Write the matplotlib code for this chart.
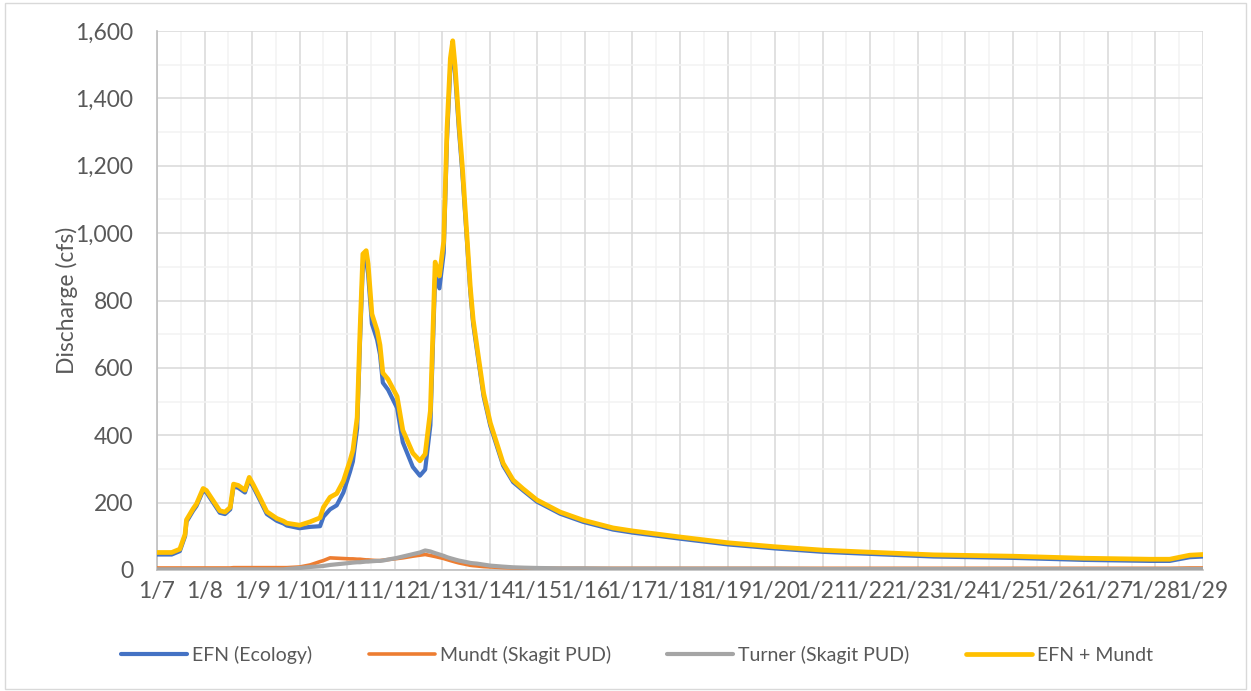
import numpy as np
import matplotlib
matplotlib.use("Agg")
import matplotlib.pyplot as plt
from matplotlib.ticker import MultipleLocator, FuncFormatter
from matplotlib.patches import Rectangle

# Time axis: day of January (fractional days)
day = [
    7.00, 7.31, 7.48, 7.59, 7.62, 7.76, 7.83, 7.97, 8.04, 8.18,
    8.32, 8.43, 8.54, 8.61, 8.71, 8.85, 8.94, 9.03, 9.17, 9.31,
    9.52, 9.66, 9.73, 10.00, 10.22, 10.43, 10.50, 10.64, 10.78, 10.92,
    11.06, 11.12, 11.21, 11.27, 11.33, 11.40, 11.44, 11.52, 11.63, 11.69,
    11.75, 11.86, 12.05, 12.17, 12.38, 12.53, 12.64, 12.75, 12.85, 12.94,
    13.03, 13.10, 13.17, 13.22, 13.27, 13.35, 13.42, 13.49, 13.59, 13.65,
    13.73, 13.87, 14.01, 14.28, 14.49, 14.70, 14.99, 15.48, 15.96, 16.59,
    17.00, 18.00, 19.00, 20.00, 21.00, 21.80, 23.33, 25.00, 26.48, 27.88,
    28.30, 28.72, 29.00,
]

# Discharge, cfs
efn = [
    46, 46, 56, 100, 143, 176, 190, 236, 230, 200,
    170, 166, 180, 248, 244, 230, 268, 245, 206, 166,
    146, 138, 132, 124, 128, 130, 158, 180, 192, 230,
    292, 322, 421, 679, 907, 918, 879, 731, 683, 640,
    556, 535, 481, 379, 306, 280, 298, 430, 874, 836,
    941, 1280, 1491, 1545, 1472, 1307, 1183, 1037, 825, 730,
    651, 515, 428, 310, 261, 236, 203, 167, 143, 120,
    111, 93, 76, 64, 54, 49, 40, 36, 30, 27,
    27, 38, 40,
]

mundt = [
    6, 6, 6, 6, 6, 6, 6, 6, 6, 6,
    6, 6, 6, 7, 7, 7, 7, 7, 7, 7,
    7, 7, 7, 9, 15, 25, 28, 36, 35, 34,
    33, 33, 32, 32, 31, 30, 30, 29, 28, 28,
    29, 31, 34, 36, 41, 44, 46, 43, 40, 37,
    34, 31, 28, 26, 24, 21, 19, 17, 14, 13,
    12, 10, 9, 7, 6, 5, 5, 5, 5, 5,
    5, 5, 5, 5, 5, 5, 5, 5, 5, 5,
    5, 6, 6,
]

turner = [
    2, 2, 2, 2, 2, 2, 2, 2, 2, 2,
    2, 2, 2, 2, 2, 2, 2, 2, 2, 2,
    2, 2, 3, 6, 9, 11, 12, 15, 17, 19,
    21, 22, 23, 23, 24, 25, 25, 26, 27, 27,
    28, 31, 36, 40, 47, 52, 58, 55, 50, 46,
    42, 38, 35, 33, 31, 28, 26, 24, 21, 20,
    19, 16, 13, 10, 8, 7, 6, 5, 5, 4,
    4, 4, 4, 4, 3, 3, 3, 3, 3, 3,
    3, 3, 3,
]

efn_plus_mundt = np.array(efn) + np.array(mundt)

tick_days = list(range(7, 30))
tick_labels = [f"1/{d}" for d in tick_days]

TEXT = "#595959"
plt.rcParams["font.family"] = ["Lato", "DejaVu Sans"]
plt.rcParams["font.size"] = 16.5

fig = plt.figure(figsize=(12.51, 6.91), dpi=100)
ax = fig.add_axes([157 / 1251, 1 - 570 / 691, 1046 / 1251, 539 / 691])

line_kw = dict(solid_joinstyle="round", solid_capstyle="round")
ax.plot(day, efn, color="#4472C4", lw=3.0, label="EFN (Ecology)", zorder=3, **line_kw)
ax.plot(day, mundt, color="#ED7D31", lw=2.6, label="Mundt (Skagit PUD)", zorder=4, **line_kw)
ax.plot(day, turner, color="#A5A5A5", lw=3.0, label="Turner (Skagit PUD)", zorder=5, **line_kw)
ax.plot(day, efn_plus_mundt, color="#FFC000", lw=3.4, label="EFN + Mundt", zorder=6, **line_kw)

ax.set_xlim(7, 29)
ax.set_ylim(0, 1600)
ax.set_xticks(tick_days)
ax.set_xticklabels(tick_labels)
ax.xaxis.set_minor_locator(MultipleLocator(0.5))
ax.yaxis.set_major_locator(MultipleLocator(200))
ax.yaxis.set_minor_locator(MultipleLocator(100))
ax.yaxis.set_major_formatter(FuncFormatter(lambda v, p: f"{int(v):,}"))

ax.grid(which="major", color="#D9D9D9", lw=1.1, zorder=0)
ax.grid(which="minor", color="#F2F2F2", lw=1.1, zorder=0)
ax.set_axisbelow(True)

ax.tick_params(which="both", length=0, colors=TEXT)
ax.tick_params(axis="x", pad=8)
ax.tick_params(axis="y", pad=17)

for side in ("top", "right"):
    ax.spines[side].set_visible(False)
for side in ("left", "bottom"):
    ax.spines[side].set_color("#BFBFBF")
    ax.spines[side].set_linewidth(1.2)
    ax.spines[side].set_zorder(2)

ax.set_ylabel("Discharge (cfs)", color=TEXT, va="center", fontsize=16.5)
ax.yaxis.set_label_coords((67 - 157) / 1046, 0.5)

fig.legend(loc="center", bbox_to_anchor=(637 / 1251, 1 - 655 / 691), ncol=4,
           frameon=False, handlelength=3.4, handletextpad=0.25,
           columnspacing=2.9, labelcolor=TEXT, fontsize=14)

fig.patches.append(Rectangle((5 / 1251, 2 / 691), 1241 / 1251, 686 / 691,
                             transform=fig.transFigure, fill=False,
                             edgecolor="#D9D9D9", lw=1.0))

fig.savefig("out.png", dpi=100)
